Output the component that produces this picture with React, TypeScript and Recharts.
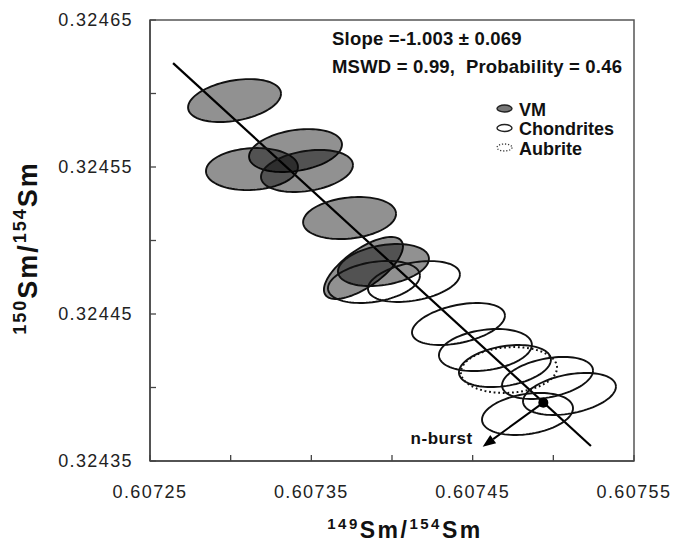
import React from 'react';
import { ScatterChart, Scatter, XAxis, YAxis, ReferenceLine, ReferenceDot, ReferenceArea, Customized } from 'recharts';

const FONT = '"Liberation Sans", Arial, Helvetica, sans-serif';

// axis ticks (minor ticks carry no label)
const xTicks = [0.60725, 0.6073, 0.60735, 0.6074, 0.60745, 0.6075, 0.60755];
const xTickLabels = ['0.60725', '', '0.60735', '', '0.60745', '', '0.60755'];
const yTicks = [0.32435, 0.3244, 0.32445, 0.3245, 0.32455, 0.3246, 0.32465];
const yTickLabels = ['0.32435', '', '0.32445', '', '0.32455', '', '0.32465'];

// VM samples: centre, half widths of the error ellipse, error correlation
const vmX = [0.6073024, 0.6073402, 0.6073132, 0.6073473, 0.6073737, 0.6073823, 0.6073947];
const vmY = [0.3245952, 0.3245612, 0.3245486, 0.3245473, 0.3245153, 0.3244813, 0.3244833];
const vmSx = [0.0000288, 0.0000288, 0.0000285, 0.0000285, 0.0000288, 0.0000245, 0.0000282];
const vmSy = [0.0000146, 0.0000146, 0.0000143, 0.0000143, 0.0000143, 0.0000211, 0.0000143];
const vmRho = [0.32, 0.28, 0.1, 0.28, 0.2, 0.7, 0.3];

// chondrites
const chX = [0.6073888, 0.6074136, 0.6074412, 0.6074579, 0.60747, 0.6074964, 0.60751, 0.607484];
const chY = [0.3244718, 0.3244721, 0.3244432, 0.3244255, 0.3244146, 0.3244065, 0.3243956, 0.324382];
const chSx = [0.0000285, 0.0000285, 0.0000288, 0.0000288, 0.0000285, 0.0000282, 0.0000288, 0.0000282];
const chSy = [0.0000143, 0.0000139, 0.0000143, 0.0000143, 0.0000143, 0.0000143, 0.0000143, 0.0000143];
const chRho = [0.3, 0.35, 0.4, 0.25, 0.3, 0.35, 0.35, 0.27];

// aubrite
const auX = [0.6074725];
const auY = [0.3244119];
const auSx = [0.0000298];
const auSy = [0.0000156];
const auRho = [0.1];

// isochron line, neutron-burst point and arrow tip
const fitStart = { x: 0.6072643, y: 0.3246207 };
const fitEnd = { x: 0.6075233, y: 0.3243602 };
const burstPoint = { x: 0.6074938, y: 0.3243897 };
const burstTip = { x: 0.6074562, y: 0.3243597 };

// outline of an error ellipse, drawn as a closed polygon
const outline = (cx: number, cy: number, sx: number, sy: number, rho: number) => {
  const pts = [];
  const s = Math.sqrt(1 - rho * rho);
  for (let k = 0; k <= 90; k++) {
    const t = (k / 90) * Math.PI * 2;
    pts.push({ x: cx + sx * Math.cos(t), y: cy + sy * (rho * Math.cos(t) + s * Math.sin(t)) });
  }
  return pts;
};

const vmShapes = vmX.map((x, i) => outline(x, vmY[i], vmSx[i], vmSy[i], vmRho[i]));
const chShapes = chX.map((x, i) => outline(x, chY[i], chSx[i], chSy[i], chRho[i]));
const auShapes = auX.map((x, i) => outline(x, auY[i], auSx[i], auSy[i], auRho[i]));

const noDot = () => <g />;

const XTick = (props: any) => {
  const { x, y, index } = props;
  return (
    <text x={x} y={y} dy="0.71em" textAnchor="middle" fontSize={18} letterSpacing={1.4} fill="#222" fontFamily={FONT}>
      {xTickLabels[index]}
    </text>
  );
};

const YTick = (props: any) => {
  const { x, y, index } = props;
  return (
    <text x={x} y={y} dy="0.355em" textAnchor="end" fontSize={18} letterSpacing={1.4} fill="#222" fontFamily={FONT}>
      {yTickLabels[index]}
    </text>
  );
};

const BurstArrow = (props: any) => {
  const { x1, y1, x2, y2 } = props;
  const ang = Math.atan2(y2 - y1, x2 - x1);
  const len = 13;
  const w = 5;
  const bx = x2 - len * Math.cos(ang);
  const by = y2 - len * Math.sin(ang);
  const px = -Math.sin(ang) * w;
  const py = Math.cos(ang) * w;
  return (
    <g>
      <line x1={x1} y1={y1} x2={bx} y2={by} stroke="#000" strokeWidth={2} />
      <polygon points={`${x2},${y2} ${bx + px},${by + py} ${bx - px},${by - py}`} fill="#000" />
      <text x={x2 - 10} y={y2 - 3} textAnchor="end" fontSize={17} fontWeight="bold" letterSpacing={0.5} fill="#111" fontFamily={FONT}>
        n-burst
      </text>
    </g>
  );
};

const Notes = () => (
  <g fontFamily={FONT} fontWeight="bold" fill="#111">
    <text x={332} y={45} fontSize={18.5} letterSpacing={0.2} style={{ whiteSpace: 'pre' }}>Slope =-1.003 ± 0.069</text>
    <text x={332} y={72.5} fontSize={18.5} letterSpacing={0.2} style={{ whiteSpace: 'pre' }}>MSWD = 0.99,  Probability = 0.46</text>

    <ellipse cx={504.5} cy={108.5} rx={7.5} ry={3.5} fill="#777" stroke="#222" strokeWidth={1.4} />
    <text x={519} y={116} fontSize={18}>VM</text>
    <ellipse cx={504.5} cy={128} rx={7.5} ry={3.5} fill="#fff" stroke="#222" strokeWidth={1.4} />
    <text x={519} y={135} fontSize={18}>Chondrites</text>
    <ellipse cx={504.5} cy={147.5} rx={7.5} ry={3.5} fill="#fff" stroke="#333" strokeWidth={1.3} strokeDasharray="1.2 1.8" />
    <text x={519} y={154.5} fontSize={18}>Aubrite</text>

    <text x={405} y={538} textAnchor="middle" fontSize={23} letterSpacing={2.5}>
      <tspan fontSize={15} dy={-9}>149</tspan>
      <tspan dy={9}>Sm/</tspan>
      <tspan fontSize={15} dy={-9}>154</tspan>
      <tspan dy={9}>Sm</tspan>
    </text>
    <text x={37} y={248} transform="rotate(-90, 37, 248)" textAnchor="middle" fontSize={27} letterSpacing={2}>
      <tspan fontSize={18} dy={-11}>150</tspan>
      <tspan dy={11}>Sm/</tspan>
      <tspan fontSize={18} dy={-11}>154</tspan>
      <tspan dy={11}>Sm</tspan>
    </text>
  </g>
);

export default function App() {
  return (
    <div style={{ position: 'absolute', left: 0, top: 0, background: '#fff' }}>
      <ScatterChart width={674} height={545} margin={{ top: 20, right: 40, bottom: 0, left: 0 }} style={{ fontFamily: FONT }}>
        <XAxis
          type="number"
          dataKey="x"
          domain={[0.60725, 0.60755]}
          ticks={xTicks}
          interval={0}
          allowDataOverflow
          height={84}
          tickSize={-6}
          tickMargin={30}
          tick={<XTick />}
          axisLine={{ stroke: '#444', strokeWidth: 1.5 }}
          tickLine={{ stroke: '#444', strokeWidth: 1.3 }}
        />
        <YAxis
          type="number"
          dataKey="y"
          domain={[0.32435, 0.32465]}
          ticks={yTicks}
          interval={0}
          allowDataOverflow
          width={150}
          tickSize={-6}
          tickMargin={23}
          tick={<YTick />}
          axisLine={{ stroke: '#444', strokeWidth: 1.5 }}
          tickLine={{ stroke: '#444', strokeWidth: 1.3 }}
        />
        <ReferenceArea x1={0.60725} x2={0.60755} y1={0.32435} y2={0.32465} fill="none" fillOpacity={0} stroke="#555" strokeWidth={1.5} />

        {vmShapes.map((pts, i) => (
          <Scatter
            key={`vm-${i}`}
            data={pts}
            shape={noDot}
            lineType="joint"
            line={{ stroke: '#111', strokeWidth: 1.9, fill: '#000', fillOpacity: 0.43 }}
            isAnimationActive={false}
          />
        ))}
        {chShapes.map((pts, i) => (
          <Scatter
            key={`ch-${i}`}
            data={pts}
            shape={noDot}
            lineType="joint"
            line={{ stroke: '#111', strokeWidth: 1.9, fill: 'none' }}
            isAnimationActive={false}
          />
        ))}
        {auShapes.map((pts, i) => (
          <Scatter
            key={`au-${i}`}
            data={pts}
            shape={noDot}
            lineType="joint"
            line={{ stroke: '#111', strokeWidth: 2, fill: 'none', strokeDasharray: '1.8 2.8' }}
            isAnimationActive={false}
          />
        ))}

        <ReferenceLine segment={[fitStart, fitEnd]} stroke="#000" strokeWidth={2.2} />
        <ReferenceLine segment={[burstPoint, burstTip]} stroke="#000" shape={<BurstArrow />} />
        <ReferenceDot x={burstPoint.x} y={burstPoint.y} r={5} fill="#000" stroke="none" />
        <Customized component={<Notes />} />
      </ScatterChart>
    </div>
  );
}
